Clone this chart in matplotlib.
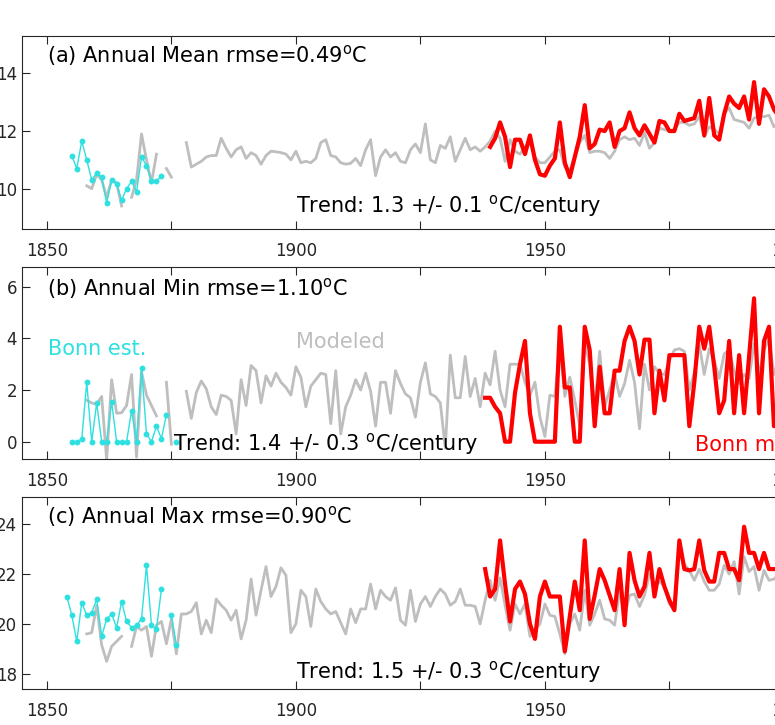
import numpy as np
import matplotlib
matplotlib.use("Agg")
import matplotlib.pyplot as plt

nan = np.nan

# ---- data ----
model_start = 1858
mean_model = [10.1, 10.0, 10.5, 10.3, 9.7, 10.3, 10.2, 9.4, nan, 9.7,
              10.3, 11.9, 11.0, 10.2, 11.2, nan, 10.7, 10.4, nan, nan,
              11.6, 10.75, 10.85, 10.95, 11.1, 11.15, 11.15, 11.75, 11.4, 11.1,
              11.35, 11.45, 11.05, 11.25, 11.15, 10.85, 11.15, 11.3, 11.28, 11.25,
              11.2, 11.0, 11.3, 10.9, 10.95, 10.9, 11.05, 11.6, 11.7, 11.15,
              11.1, 10.9, 10.85, 10.88, 11.05, 10.8, 11.35, 11.7, 10.45, 11.1,
              11.35, 11.1, 11.25, 10.95, 10.9, 11.35, 11.55, 11.25, 12.25, 11.0,
              10.9, 11.5, 11.4, 11.8, 10.95, 11.35, 11.75, 11.35, 11.45, 11.3,
              11.45, 11.65, 12.0, 11.75, 10.95, 11.7, 11.3, 11.2, 11.45, 11.6,
              11.1, 10.9, 10.9, 11.1, 11.3, 11.35, 10.75, 10.65, 11.1, 11.6,
              11.85, 11.25, 11.3, 11.3, 11.25, 11.05, 11.3, 11.7, 11.8, 11.7,
              11.75, 11.5, 11.95, 11.4, 11.6, 12.1, 12.05, 12.0, 12.05, 12.3,
              12.3, 12.2, 12.25, 12.5, 11.8, 12.15, 12.05, 11.9, 12.6, 12.8,
              12.4, 12.35, 12.3, 12.1, 12.45, 12.5, 12.5, 12.55, 12.15, 12.3]
min_model = [1.6, 1.5, 1.45, 1.75, -0.7, 2.4, 1.1, 1.12, 1.4, 2.6,
             -0.6, 2.7, 1.8, 1.4, 1.0, nan, 2.3, -0.1, nan, nan,
             1.95, 0.9, 1.9, 2.35, 2.05, 1.35, 1.05, 1.8, 1.75, 1.6,
             0.3, 2.4, 1.4, 2.95, 2.75, 1.5, 2.55, 2.15, 2.65, 2.3,
             2.1, 1.8, 2.9, 2.5, 1.35, 2.15, 2.4, 2.65, 2.6, 0.7,
             2.75, 0.3, 1.35, 1.8, 2.4, 2.0, 2.65, 1.95, 0.6, 2.3,
             2.3, 1.1, 2.75, 2.25, 1.85, 1.7, 0.95, 2.3, 3.05, 1.85,
             1.75, 1.5, -0.25, 3.35, 1.7, 1.7, 3.3, 1.75, 2.45, 1.35,
             2.65, 2.2, 3.5, 2.0, 1.35, 3.0, 3.0, 3.0, 2.3, 1.8,
             2.3, 0.95, 0.2, 1.8, 1.75, 3.7, 1.75, 2.5, 1.6, 0.6,
             3.85, 3.0, 1.35, 3.5, 1.35, 2.0, 2.65, 1.75, 2.25, 3.15,
             2.3, 0.5, 3.0, 2.0, 2.9, 2.65, 2.6, 3.15, 3.55, 3.6,
             3.5, 2.0, 2.65, 3.75, 2.6, 3.6, 3.15, 2.45, 3.4, 3.55,
             2.75, 2.25, 2.6, 2.45, 3.8, 2.6, 3.55, 4.0, 2.6, 3.2]
max_model = [19.6, 19.65, 20.75, 19.15, 18.5, 19.1, 19.3, 19.5, nan, 19.1,
             19.9, 19.75, 19.9, 18.7, 19.95, 20.1, 19.2, 20.2, 18.8, 20.4,
             20.4, 20.5, 20.85, 19.6, 20.15, 19.65, 21.0, 20.75, 20.55, 20.15,
             20.55, 19.4, 20.15, 21.8, 20.35, 21.35, 22.3, 21.1, 21.5, 22.25,
             21.95, 19.65, 20.0, 21.35, 21.1, 19.9, 21.4, 20.9, 20.6, 20.4,
             20.5, 20.05, 19.6, 20.6, 20.05, 20.6, 20.6, 21.6, 20.6, 21.35,
             21.1, 20.95, 21.45, 20.15, 19.95, 21.35, 20.1, 20.8, 21.1, 20.7,
             21.1, 21.4, 21.2, 20.75, 20.9, 21.4, 20.75, 20.75, 20.7, 20.0,
             20.95, 21.75, 20.95, 21.85, 20.75, 19.75, 20.8, 20.4, 20.8, 19.5,
             19.75, 20.0, 20.8, 20.35, 20.3, 19.6, 18.8, 20.0, 20.4, 19.75,
             21.35, 19.95, 20.4, 20.95, 20.2, 20.15, 19.95, 21.35, 20.3, 21.15,
             21.2, 20.7, 21.15, 22.0, 21.6, 21.7, 21.5, 20.8, 20.55, 23.0,
             22.4, 22.15, 21.75, 22.2, 21.7, 21.35, 21.35, 21.6, 22.35, 22.0,
             22.5, 21.2, 22.7, 22.1, 22.3, 21.35, 22.15, 21.75, 21.8, 22.0]

mean_meas_start = 1939
mean_meas = [11.45, 11.75, 12.3, 11.8, 10.75, 11.7, 11.7, 11.2, 11.85, 11.0,
             10.5, 10.45, 10.8, 11.05, 12.3, 10.9, 10.4, 11.1, 11.8, 12.9,
             11.4, 11.55, 12.05, 12.0, 12.3, 11.45, 12.0, 12.1, 12.65, 12.1,
             11.85, 12.2, 11.9, 11.6, 12.35, 12.3, 12.0, 12.0, 12.6, 12.35,
             12.4, 12.45, 13.05, 11.85, 13.15, 11.85, 11.7, 12.6, 13.2, 12.95,
             12.8, 13.2, 12.4, 13.7, 12.25, 13.45, 13.2, 12.75, 12.5]
min_meas_start = 1938
min_meas = [1.7, 1.7, 1.35, 1.1, 0.0, 0.0, 1.9, 3.0, 3.9, 1.1,
            0.0, 0.0, 0.0, 0.0, 0.0, 4.45, 2.1, 2.1, 0.0, 0.0,
            4.45, 3.55, 0.6, 2.9, 1.1, 1.1, 2.75, 2.75, 3.9, 4.45,
            3.9, 2.6, 3.95, 3.95, 1.1, 2.75, 1.6, 3.35, 3.35, 3.35,
            3.35, 0.6, 2.3, 4.45, 3.6, 4.45, 2.9, 1.1, 1.6, 3.9,
            1.1, 3.35, 1.1, 3.3, 5.55, 1.1, 3.9, 4.45, 0.6, 2.0]
max_meas_start = 1938
max_meas = [22.2, 21.1, 21.4, 23.35, 21.6, 20.1, 21.4, 21.7, 21.2, 20.0,
            19.4, 21.1, 21.7, 21.1, 21.1, 21.1, 18.9, 20.3, 21.7, 20.55,
            23.35, 20.2, 21.15, 22.2, 21.75, 21.15, 20.55, 22.2, 19.95, 22.85,
            21.75, 21.1, 21.5, 22.85, 21.1, 22.2, 21.5, 20.95, 20.55, 23.35,
            22.2, 22.15, 22.2, 23.35, 22.15, 21.7, 21.7, 22.85, 22.85, 22.2,
            22.2, 21.75, 23.9, 22.85, 22.85, 22.2, 22.85, 22.2, 22.2, 22.2]

mean_est_start = 1855
mean_est = [11.15, 10.7, 11.65, 11.0, 10.3, 10.55, 10.4, 9.5, 10.3, 10.15,
            9.6, 10.0, 10.25, 9.9, 11.1, 10.8, 10.25, 10.25, 10.45]
min_est_start = 1855
min_est = [0, 0, 0.1, 2.3, 0, 1.5, 0, 0, 1.55, 0,
           0, 0, 1.2, 0, 2.85, 0.3, 0, 0.6, 0.12, 1.05,
           nan, 0]
max_est_start = 1854
max_est = [21.1, 20.35, 19.3, 20.85, 20.35, 20.45, 21.0, 19.5, 20.2, 20.4,
           19.85, 20.9, 20.1, 19.85, 19.95, 20.2, 22.35, 19.95, 19.8, 21.4,
           nan, 20.35, 19.15]

titles = ["(a) Annual Mean rmse=0.49$^{\\mathrm{o}}$C",
          "(b) Annual Min rmse=1.10$^{\\mathrm{o}}$C",
          "(c) Annual Max rmse=0.90$^{\\mathrm{o}}$C"]
trends = ["Trend: 1.3 +/- 0.1 $^{\\mathrm{o}}$C/century",
          "Trend: 1.4 +/- 0.3 $^{\\mathrm{o}}$C/century",
          "Trend: 1.5 +/- 0.3 $^{\\mathrm{o}}$C/century"]
xticks = [1850, 1875, 1900, 1925, 1950, 1975, 2000]
xtick_labels = ["1850", "", "1900", "", "1950", "", "2000"]
yticks = [[10, 12, 14], [0, 2, 4, 6], [18, 20, 22, 24]]
ylims = [(8.6, 15.3), (-0.67, 6.75), (17.39, 25.08)]

GRAY = "#bebebe"
RED = "#ff0000"
CYAN = "#2ee0e0"
INK = "#262626"


def yrs(start, vals):
    return start + np.arange(len(vals))


fig = plt.figure(figsize=(7.75, 7.25), dpi=100)
W, H = 775.0, 725.0
x0 = 22
px_per_year = 4.98
xlim = (1845, 2015)
width = (xlim[1] - xlim[0]) * px_per_year
boxes = [(36, 229), (267.3, 459), (497.3, 689)]

models = [mean_model, min_model, max_model]
meas = [(mean_meas_start, mean_meas), (min_meas_start, min_meas), (max_meas_start, max_meas)]
ests = [(mean_est_start, mean_est), (min_est_start, min_est), (max_est_start, max_est)]
title_y = [14.37, 5.68, 24.04]
trend_pos = [(1900, 9.17), (1875.3, -0.32), (1900, 17.82)]

for i in range(3):
    top, bot = boxes[i]
    ax = fig.add_axes([x0 / W, (H - bot) / H, width / W, (bot - top) / H])
    ax.plot(yrs(model_start, models[i]), models[i], color=GRAY, lw=2.0, zorder=2)
    s, v = meas[i]
    ax.plot(yrs(s, v), v, color=RED, lw=3.0, zorder=3)
    s, v = ests[i]
    ax.plot(yrs(s, v), v, color=CYAN, lw=1.0, marker="o", ms=3.2, zorder=4)

    ax.set_xlim(*xlim)
    ax.set_ylim(*ylims[i])
    ax.set_xticks(xticks)
    ax.set_xticklabels(xtick_labels)
    ax.set_yticks(yticks[i])
    ax.tick_params(direction="in", length=6, width=0.8, colors=INK,
                   labelsize=12, top=True, right=True)
    ax.tick_params(axis="x", pad=9)
    ax.tick_params(axis="y", pad=3.5)
    for sp in ax.spines.values():
        sp.set_color(INK)
        sp.set_linewidth(0.8)

    ax.text(1850, title_y[i], titles[i], fontsize=15, color="black", va="baseline")
    tx, ty = trend_pos[i]
    ax.text(tx, ty, trends[i], fontsize=15, color="black", va="baseline", zorder=5)

    if i == 1:
        ax.text(1850.3, 3.36, "Bonn est.", fontsize=15, color=CYAN, va="baseline")
        ax.text(1900, 3.62, "Modeled", fontsize=15, color=GRAY, va="baseline")
        ax.text(1980.1, -0.35, "Bonn meas.", fontsize=15, color=RED, va="baseline")

fig.savefig("out.png", dpi=100)
